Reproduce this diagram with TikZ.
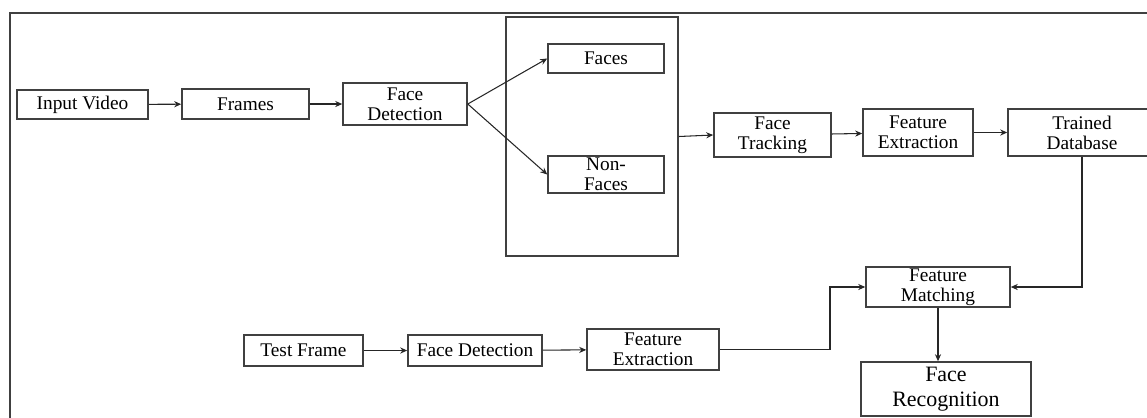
\documentclass[tikz,border=0pt]{standalone}
\usepackage{fontspec}
\setmainfont{Liberation Serif}
\usetikzlibrary{
	arrows.meta,
	positioning,
	calc
}

\begin{document}
\begin{tikzpicture}[x=0.02cm,y=-0.02cm,
		>={Stealth[length=4pt,width=3.5pt]},
		box/.style={draw=black!75,line width=0.9pt,rectangle,align=center,
			inner sep=1pt,font=\fontsize{11}{11.5}\selectfont},
		link/.style={->,draw=black!85,line width=0.6pt}]
	
	\clip (0,0) rectangle (1147,417);
	\draw[line width=1.4pt,black!75] (1160,13) -- (10,13) -- (10,430);
	
	\node[box,minimum width=2.62cm,minimum height=0.58cm] (input) at (82.5,104.5) {Input Video};
	\node[box,minimum width=2.54cm,minimum height=0.60cm] (frames) at (245.5,104) {Frames};
	\node[box,minimum width=2.48cm,minimum height=0.84cm] (detect) at (405,104) {Face\\Detection};
	
	\node[draw=black!75,line width=0.9pt,inner sep=0pt,minimum width=3.44cm,minimum height=4.78cm] (group) at (592,136.5) {};
	\node[box,minimum width=2.32cm,minimum height=0.58cm] (faces) at (606,58.5) {Faces};
	\node[box,minimum width=2.32cm,minimum height=0.74cm] (nonfaces) at (606,174.5) {Non-\\Faces};
	
	\node[box,minimum width=2.34cm,minimum height=0.88cm] (track) at (772.5,135) {Face\\Tracking};
	\node[box,minimum width=2.20cm,minimum height=0.94cm] (extract) at (918,132.5) {Feature\\Extraction};
	\node[box,minimum width=2.96cm,minimum height=0.94cm] (trained) at (1082,132.5) {Trained\\Database};
	
	\node[box,minimum width=2.38cm,minimum height=0.62cm] (test) at (303.5,350.5) {Test Frame};
	\node[box,minimum width=2.68cm,minimum height=0.62cm] (detecttest) at (475,350.5) {Face Detection};
	\node[box,minimum width=2.64cm,minimum height=0.82cm] (extracttest) at (653,349.5) {Feature\\Extraction};
	
	\node[box,minimum width=2.88cm,minimum height=0.80cm] (match) at (938,287) {Feature\\Matching};
	\node[box,minimum width=3.40cm,minimum height=1.08cm,
		font=\fontsize{12.5}{14}\selectfont] (recog) at (946,389) {Face\\Recognition};
	
	\coordinate (bend) at (830,349.5);
	
	\draw[link] (input) -- (frames);
	\draw[link] (frames) -- (detect);
	\draw[link] (detect.east) -- (faces.west);
	\draw[link] (detect.east) -- (nonfaces.west);
	\draw[link] (group.east) -- (track.west);
	\draw[link] (track) -- (extract);
	\draw[link] (extract) -- (trained);
	\draw[link] (trained.south) |- (match.east);
	
	\draw[link] (test) -- (detecttest);
	\draw[link] (detecttest) -- (extracttest);
	\draw[link] (extracttest.east) -- (bend) |- (match.west);
	\draw[link] (match.south) -- (match.south |- recog.north);
	
\end{tikzpicture}
\end{document}
